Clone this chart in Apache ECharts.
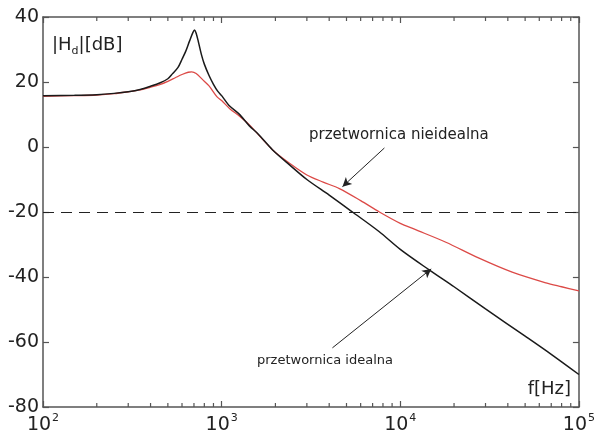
<!DOCTYPE html>
<html>
<head>
<meta charset="utf-8">
<script src="https://cdn.jsdelivr.net/npm/echarts@6/dist/echarts.min.js"></script>
<style>
  html, body { margin: 0; padding: 0; background: #fff; }
  #main { width: 598px; height: 438px; }
</style>
</head>
<body>
<div id="main"></div>
<script>
// przetwornica idealna (black)
var freqIdeal = [100, 150, 200, 250, 300, 350, 400, 450, 500, 530, 570, 600, 630, 660, 690, 706, 720, 740, 770, 800, 850, 900, 950, 1000, 1100, 1250, 1430, 1600, 1930, 2400, 3000, 4000, 5400, 7600, 10000, 14500, 20000, 30000, 50000, 70000, 100000];
var magIdeal  = [15.8, 15.9, 16.1, 16.5, 17.0, 17.7, 18.7, 19.7, 21.0, 22.5, 24.5, 27.0, 29.5, 32.5, 35.2, 36.0, 35.0, 32.5, 28.5, 25.5, 22.0, 19.3, 17.2, 15.8, 12.8, 10.2, 6.5, 4.0, -0.9, -5.5, -10.0, -14.8, -20.0, -26.0, -31.5, -37.8, -43.0, -49.8, -58.2, -63.8, -70.0];
// przetwornica nieidealna (red)
var freqReal = [100, 150, 200, 250, 300, 350, 400, 450, 500, 550, 600, 650, 680, 720, 780, 850, 940, 1000, 1110, 1260, 1430, 1930, 2400, 3000, 3700, 4560, 6000, 7640, 10000, 12000, 18000, 27600, 42300, 65400, 80000, 100000];
var magReal  = [15.6, 15.8, 16.0, 16.4, 17.0, 17.6, 18.4, 19.2, 20.2, 21.3, 22.3, 23.0, 23.1, 22.6, 20.8, 18.8, 15.5, 14.3, 11.8, 9.5, 6.8, -0.9, -5.0, -8.6, -10.8, -12.8, -16.5, -20.0, -23.5, -25.3, -29.3, -34.2, -38.5, -41.8, -43.0, -44.3];

var xTicks = [100, 1000, 10000, 100000];
var yTicks = [-80, -60, -40, -20, 0, 20, 40];
var minorFreqs = [200, 300, 400, 500, 600, 700, 800, 900, 2000, 3000, 4000, 5000, 6000, 7000, 8000, 9000, 20000, 30000, 40000, 50000, 60000, 70000, 80000, 90000];
var refLevel = -20;
// strzalki: [ogon, grot] we wspolrzednych danych
var arrowReal = [[8150, -0.3], [4745, -12.2]];
var arrowIdeal = [[4170, -61.8], [14900, -37.5]];

var chart = echarts.init(document.getElementById('main'));
var font = 'DejaVu Sans, Arial, sans-serif';
var axisCol = '#555';
var txtCol = '#222';

function zip(a, b) { return a.map(function (v, i) { return [v, b[i]]; }); }

function frameAxis(extra) {
    var ax = {
        axisLine: { show: true, onZero: false, lineStyle: { color: axisCol, width: 1.5 } },
        axisTick: { show: true, inside: true, length: 6, lineStyle: { color: axisCol, width: 1.2 } },
        splitLine: { show: false },
        axisLabel: { show: false }
    };
    for (var k in extra) ax[k] = extra[k];
    return ax;
}

var option = {
    animation: false,
    backgroundColor: '#fff',
    grid: { left: 43, right: 18, top: 17, bottom: 31 },
    xAxis: [
        frameAxis({
            type: 'log', logBase: 10, position: 'bottom',
            min: xTicks[0], max: xTicks[xTicks.length - 1],
            axisLabel: {
                margin: 6,
                formatter: function (v) { return '{b|10}{s|' + Math.round(Math.log10(v)) + '}'; },
                rich: {
                    b: { fontSize: 19, color: txtCol, fontFamily: font, lineHeight: 24 },
                    s: { fontSize: 11, color: txtCol, fontFamily: font, lineHeight: 12, verticalAlign: 'top', padding: [0, 0, 0, 1] }
                }
            }
        }),
        frameAxis({
            type: 'log', logBase: 10, position: 'top',
            min: xTicks[0], max: xTicks[xTicks.length - 1]
        })
    ],
    yAxis: [
        frameAxis({
            type: 'value', position: 'left', min: yTicks[0], max: yTicks[yTicks.length - 1], interval: 20,
            axisLabel: { show: true, fontSize: 19, color: txtCol, fontFamily: font, margin: 4 }
        }),
        frameAxis({
            type: 'value', position: 'right', min: yTicks[0], max: yTicks[yTicks.length - 1], interval: 20
        })
    ],
    series: [{
        name: 'przetwornica nieidealna',
        type: 'line',
        data: zip(freqReal, magReal),
        showSymbol: false,
        smooth: 0.3,
        lineStyle: { color: '#dc4a47', width: 1.3 },
        z: 3,
        markLine: {
            silent: true,
            symbol: ['none', 'arrow'], symbolSize: [7, 9],
            label: { show: false },
            lineStyle: { color: '#222', width: 1, type: 'solid' },
            data: [
                [{ coord: arrowReal[0] }, { coord: arrowReal[1] }],
                [{ yAxis: refLevel, x: 43, symbol: 'none' }, { yAxis: refLevel, x: 580, symbol: 'none', lineStyle: { color: '#222', width: 1.2, type: [11, 7] } }]
            ]
        }
    }, {
        name: 'przetwornica idealna',
        type: 'line',
        data: zip(freqIdeal, magIdeal),
        showSymbol: false,
        smooth: 0.3,
        lineStyle: { color: '#1a1a1a', width: 1.5 },
        z: 4,
        markLine: {
            silent: true,
            symbol: ['none', 'arrow'], symbolSize: [7, 9],
            label: { show: false },
            lineStyle: { color: '#222', width: 1, type: 'solid' },
            data: [
                [{ coord: arrowIdeal[0] }, { coord: arrowIdeal[1] }]
            ]
        }
    }, {
        // podzialka pomocnicza (log) na dolnej i gornej krawedzi
        type: 'custom',
        silent: true,
        clip: false,
        z: 10,
        data: minorFreqs.map(function (f) { return [f, yTicks[0]]; }),
        encode: { x: 0, y: 1 },
        renderItem: function (params, api) {
            var f = api.value(0);
            var b = api.coord([f, yTicks[0]]);
            var t = api.coord([f, yTicks[yTicks.length - 1]]);
            return {
                type: 'group',
                children: [
                    { type: 'line', shape: { x1: b[0], y1: b[1], x2: b[0], y2: b[1] - 4 }, style: { stroke: axisCol, lineWidth: 1.2 } },
                    { type: 'line', shape: { x1: t[0], y1: t[1], x2: t[0], y2: t[1] + 4 }, style: { stroke: axisCol, lineWidth: 1.2 } }
                ]
            };
        }
    }],
    graphic: [{
        type: 'text', left: 52, top: 33,
        style: {
            text: '|H{sub|d}|[dB]',
            fontSize: 18, fill: txtCol, fontFamily: font, lineHeight: 24,
            rich: { sub: { fontSize: 11, fill: txtCol, fontFamily: font, lineHeight: 12, verticalAlign: 'bottom' } }
        }
    }, {
        type: 'text', right: 27, top: 380,
        style: { text: 'f[Hz]', fontSize: 18, fill: txtCol, fontFamily: font }
    }, {
        type: 'text', left: 309, top: 128,
        style: { text: 'przetwornica nieidealna', fontSize: 15, fill: txtCol, fontFamily: font }
    }, {
        type: 'text', left: 257, top: 354,
        style: { text: 'przetwornica idealna', fontSize: 13, fill: txtCol, fontFamily: font }
    }]
};
chart.setOption(option);
</script>
</body>
</html>
